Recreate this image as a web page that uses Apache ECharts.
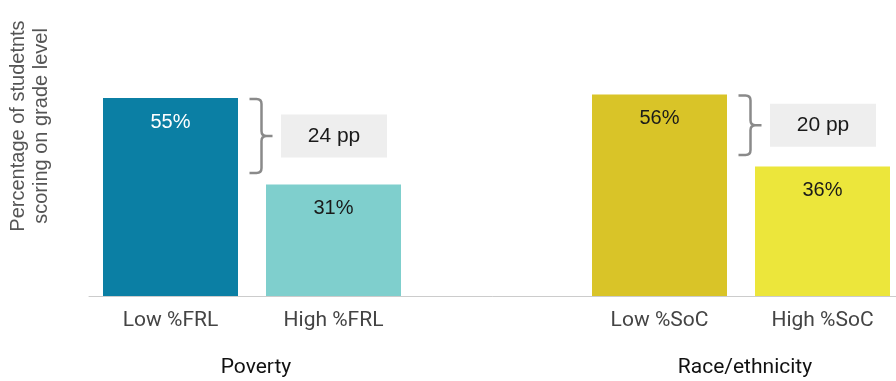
<!DOCTYPE html>
<html>
<head>
<meta charset="utf-8">
<script src="https://cdn.jsdelivr.net/npm/echarts@6/dist/echarts.min.js"></script>
<style>
  html, body { margin: 0; padding: 0; background: #ffffff; }
  #chart { width: 896px; height: 381px; }
</style>
</head>
<body>
<div id="chart"></div>
<script>
// Categories along the x axis (empty slot separates the two groups)
const categories = ['Low %FRL', 'High %FRL', '', 'Low %SoC', 'High %SoC'];
// Share of students scoring on grade level (%)
const values = [55, 31, null, 56, 36];
const barColors = ['#0b7fa4', '#7fcfcd', null, '#d9c428', '#ece63b'];
const labelColors = ['#ffffff', '#1a1a1a', null, '#1a1a1a', '#1a1a1a'];

// Group titles under the axis
const groupNames = ['Poverty', 'Race/ethnicity'];
// Gap brackets: category index of the higher bar, bracket top and bottom values
const gapCategory = [0, 3];
const gapHigh = [55, 56];
const gapLow = [31, 36];
const bracketBottom = [34.2, 39.2];

const yTitle = 'Percentage of studetnts\nscoring on grade level';

const chart = echarts.init(document.getElementById('chart'), null, { renderer: 'canvas' });

const gapData = gapCategory.map((c, i) => [c, gapHigh[i], bracketBottom[i], gapHigh[i] - gapLow[i]]);

function renderBracket(params, api) {
  const cat = api.value(0);
  const top = api.coord([cat, api.value(1)]);
  const bot = api.coord([cat, api.value(2)]);
  const diff = api.value(3);
  const cx = top[0];
  const y0 = top[1] + 1;
  const y1 = bot[1];
  const ym = (y0 + y1) / 2;
  const xa = cx + 79;   // bracket arm start
  const xv = cx + 91;   // vertical stroke
  const xt = cx + 102;  // tip
  const r = 5;
  const path =
    'M' + xa + ',' + y0 +
    ' L' + (xv - r) + ',' + y0 +
    ' Q' + xv + ',' + y0 + ' ' + xv + ',' + (y0 + r) +
    ' L' + xv + ',' + (ym - r) +
    ' Q' + xv + ',' + ym + ' ' + (xv + r) + ',' + ym +
    ' L' + xt + ',' + ym +
    ' M' + (xv + r) + ',' + ym +
    ' Q' + xv + ',' + ym + ' ' + xv + ',' + (ym + r) +
    ' L' + xv + ',' + (y1 - r) +
    ' Q' + xv + ',' + y1 + ' ' + (xv - r) + ',' + y1 +
    ' L' + xa + ',' + y1;
  const bx = cx + 110.5;
  const bw = 106;
  const bh = 43;
  return {
    type: 'group',
    children: [
      {
        type: 'path',
        shape: { pathData: path },
        style: { stroke: '#8a8a8a', lineWidth: 2.5, fill: null }
      },
      {
        type: 'rect',
        shape: { x: bx, y: ym - bh / 2, width: bw, height: bh },
        style: { fill: '#eeeeee' }
      },
      {
        type: 'text',
        style: {
          x: bx + bw / 2, y: ym,
          text: diff + ' pp',
          fill: '#1a1a1a',
          font: '21px "Liberation Sans", Arial, sans-serif',
          align: 'center', verticalAlign: 'middle'
        }
      }
    ]
  };
}

chart.setOption({
  animation: false,
  grid: { left: 89, width: 815, top: 80, bottom: 85, outerBoundsMode: 'none', containLabel: false },
  xAxis: {
    type: 'category',
    data: categories,
    axisLine: { show: true, lineStyle: { color: '#cccccc', width: 1 } },
    axisTick: { show: false },
    axisLabel: {
      color: '#444444',
      fontFamily: 'Roboto, sans-serif',
      fontSize: 21,
      margin: 14
    }
  },
  yAxis: {
    type: 'value',
    min: 0,
    max: 60,
    show: false
  },
  series: [
    {
      type: 'bar',
      barWidth: 135,
      data: values.map((v, i) => v == null ? null : {
        value: v,
        itemStyle: { color: barColors[i] },
        label: { color: labelColors[i] }
      }),
      label: {
        show: true,
        position: 'insideTop',
        distance: 14,
        formatter: '{c}%',
        fontFamily: '"Liberation Sans", Arial, sans-serif',
        fontSize: 20
      }
    },
    {
      type: 'custom',
      renderItem: renderBracket,
      data: gapData,
      z: 5
    }
  ],
  graphic: [
    {
      type: 'text',
      x: 256, y: 368,
      style: { text: groupNames[0], fill: '#111111', font: '21px Roboto, sans-serif', align: 'center', verticalAlign: 'middle' }
    },
    {
      type: 'text',
      x: 745, y: 368,
      style: { text: groupNames[1], fill: '#111111', font: '21px Roboto, sans-serif', align: 'center', verticalAlign: 'middle' }
    },
    {
      type: 'text',
      x: 30, y: 126,
      rotation: Math.PI / 2,
      style: {
        text: yTitle,
        fill: '#555555',
        font: '20px "Liberation Sans", Arial, sans-serif',
        align: 'center',
        verticalAlign: 'middle',
        lineHeight: 23
      }
    }
  ]
});
</script>
</body>
</html>
